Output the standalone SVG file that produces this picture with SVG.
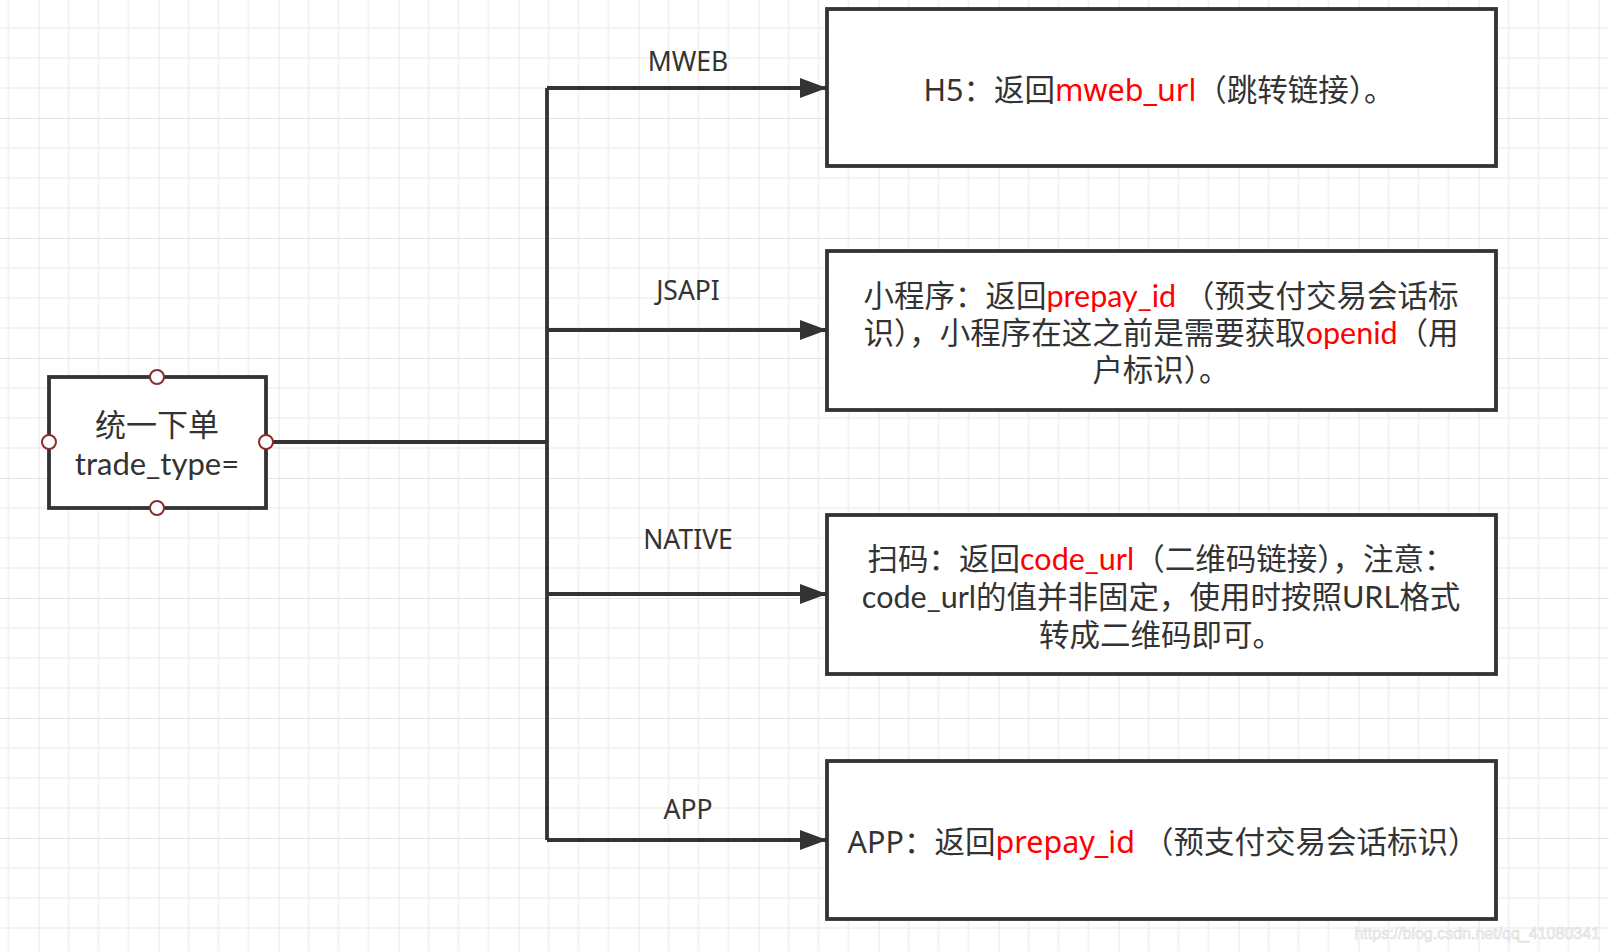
<svg xmlns="http://www.w3.org/2000/svg" width="1609" height="951" viewBox="0 0 1609 951">
<style>
.t{font-family:"Noto Sans","Noto Sans CJK SC",sans-serif;fill:#333333;}
.m{font-family:Lato,"Noto Sans CJK SC",sans-serif;}
.box{fill:#ffffff;stroke:#333333;stroke-width:3.8;}
.red{fill:#ff0000;}
.lbl{font-size:26.5px;text-anchor:middle;}
.body{font-size:30.5px;text-anchor:middle;}
.nodet{font-size:31px;text-anchor:middle;}
.edge{fill:none;stroke:#333333;stroke-width:3.8;}
.port{fill:#ffffff;stroke:#8e2b2b;stroke-width:2;}
</style>
<defs>
<pattern id="grid" patternUnits="userSpaceOnUse" x="38.5" y="-2" width="120" height="120">
<path d="M30 0V120M60 0V120M90 0V120M0 30H120M0 60H120M0 90H120" stroke="#f0f0f0" stroke-width="1.5" fill="none"/>
<path d="M0 0V120M0 0H120" stroke="#e4e4e4" stroke-width="1.8" fill="none"/>
</pattern>
<marker id="arr" markerUnits="userSpaceOnUse" markerWidth="28" markerHeight="20" refX="27" refY="10" orient="auto">
<path d="M0 0L27 10L0 20Z" fill="#333333"/>
</marker>
</defs>
<rect width="1609" height="951" fill="#ffffff"/>
<rect width="1609" height="951" fill="url(#grid)"/>

<g id="connectors">
<path class="edge" d="M266 442H547"/>
<path class="edge" d="M547 88V840"/>
<path class="edge" d="M547 88H827" marker-end="url(#arr)"/>
<path class="edge" d="M547 330H827" marker-end="url(#arr)"/>
<path class="edge" d="M547 594H827" marker-end="url(#arr)"/>
<path class="edge" d="M547 840H827" marker-end="url(#arr)"/>
<text class="t lbl" x="688" y="71">MWEB</text>
<text class="t lbl" x="688" y="300">JSAPI</text>
<text class="t lbl" x="688" y="549">NATIVE</text>
<text class="t lbl" x="688" y="819">APP</text>
</g>

<g id="node-order">
<rect class="box" x="49" y="377" width="217" height="131"/>
<text class="t m nodet"><tspan x="157" y="436">统一下单</tspan><tspan x="157" y="475">trade_type=</tspan></text>
<circle class="port" cx="157" cy="377" r="7"/>
<circle class="port" cx="157" cy="508" r="7"/>
<circle class="port" cx="49" cy="442" r="7"/>
<circle class="port" cx="266" cy="442" r="7"/>
</g>

<g id="node-h5">
<rect class="box" x="827" y="9" width="669" height="157"/>
<text class="t body" x="1159" y="101">H5：返回<tspan class="red">mweb_url</tspan>（跳转链接）。</text>
</g>

<g id="node-jsapi">
<rect class="box" x="827" y="251" width="669" height="159"/>
<text class="t m body"><tspan x="1161" y="307">小程序：返回<tspan class="red">prepay_id</tspan> （预支付交易会话标</tspan><tspan x="1161" y="344">识），小程序在这之前是需要获取<tspan class="red">openid</tspan>（用</tspan><tspan x="1161" y="381">户标识）。</tspan></text>
</g>

<g id="node-native">
<rect class="box" x="827" y="515" width="669" height="159"/>
<text class="t m body"><tspan x="1161" y="570">扫码：返回<tspan class="red">code_url</tspan>（二维码链接），注意：</tspan><tspan x="1161" y="608">code_url的值并非固定，使用时按照URL格式</tspan><tspan x="1161" y="646">转成二维码即可。</tspan></text>
</g>

<g id="node-app">
<rect class="box" x="827" y="761" width="669" height="158"/>
<text class="t body" x="1163" y="853">APP：返回<tspan class="red">prepay_id</tspan> （预支付交易会话标识）</text>
</g>

<text x="1600" y="939" font-family="Liberation Sans,Arial,sans-serif" font-size="16" text-anchor="end" fill="#f4f4f4" stroke="#dcdcdc" stroke-width="0.6">https://blog.csdn.net/qq_41080341</text>
</svg>
